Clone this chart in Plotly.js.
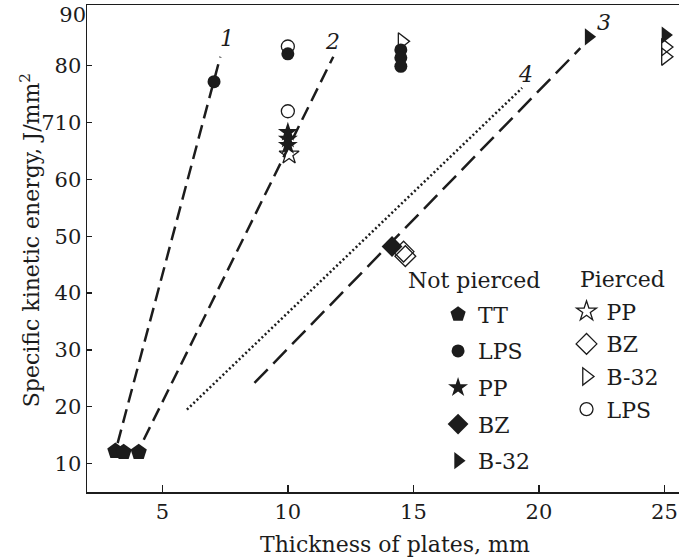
<!DOCTYPE html>
<html>
<head>
<meta charset="utf-8">
<script src="https://cdn.plot.ly/plotly-3.0.1.min.js"></script>
<style>html,body{margin:0;padding:0;background:#fff;}#chart{width:679px;height:559px;}</style>
</head>
<body>
<div id="chart"></div>
<script>
// ---- data ----
// Not pierced
var ttX = [3.13, 3.46, 4.06];
var ttY = [12.2, 12.0, 12.0];
var lpsX = [7.06, 10.0, 14.5, 14.5, 14.5];
var lpsY = [77.2, 82.1, 82.8, 81.4, 79.9];
var ppX = [10.0, 10.0, 10.0];
var ppY = [68.3, 67.1, 66.0];
var bzX = [14.15];
var bzY = [48.2];
var b32X = [21.98, 25.04];
var b32Y = [85.1, 85.4];
// Pierced
var ppOpenX = [10.05];
var ppOpenY = [64.4];
var bzOpenX = [14.61, 14.68];
var bzOpenY = [47.3, 46.5];
var b32OpenX = [14.55, 25.04];
var b32OpenY = [84.3, 83.3];
var b32OpenX2 = [25.04];
var b32OpenY2 = [81.6];
var lpsOpenX = [10.0, 10.0];
var lpsOpenY = [83.4, 72.0];
// fitted lines
var line1X = [3.22, 7.31];
var line1Y = [13.6, 81.6];
var line2X = [4.26, 11.81];
var line2Y = [14.2, 81.6];
var line3X = [8.67, 21.65];
var line3Y = [24.2, 83.1];
var line4X = [5.98, 19.33];
var line4Y = [19.5, 76.1];
var yTickVals = [10, 20, 30, 40, 50, 60, 70, 80];
var yTickText = ['10', '20', '30', '40', '50', '60', '710', '80'];
var yTopTickVals = [90];
var yTopTickText = ['90'];
var xTickVals = [5, 10, 15, 20, 25];

var INK = '#1c1c1c';
var FONT = 'DejaVu Serif, Liberation Serif, serif';

function lineTrace(x, y, dash) {
  return {x: x, y: y, type: 'scatter', mode: 'lines', showlegend: false, hoverinfo: 'skip',
    line: {color: INK, width: 2.5, dash: dash}};
}
function markTrace(x, y, name, symbol, size, legend, group) {
  return {x: x, y: y, type: 'scatter', mode: 'markers', name: name, legend: legend, legendgroup: group,
    marker: {symbol: symbol, size: size, color: INK, line: {color: INK, width: 0}}};
}
function openTrace(x, y, name, symbol, size, legend, group, show) {
  return {x: x, y: y, type: 'scatter', mode: 'markers', name: name, legend: legend, legendgroup: group,
    showlegend: show,
    marker: {symbol: symbol, size: size, color: INK, line: {color: INK, width: 1.3}}};
}

var traces = [
  lineTrace(line1X, line1Y, '14px,7px'),
  lineTrace(line2X, line2Y, '14px,7px'),
  lineTrace(line3X, line3Y, '19px,8px'),
  lineTrace(line4X, line4Y, '2px,2.5px'),
  markTrace(ttX, ttY, 'TT', 'pentagon', 17, 'legend', 'g1'),
  markTrace(lpsX, lpsY, 'LPS', 'circle', 13, 'legend', 'g2'),
  markTrace(ppX, ppY, 'PP', 'star', 15, 'legend', 'g3'),
  markTrace(bzX, bzY, 'BZ', 'diamond', 16, 'legend', 'g4'),
  markTrace(b32X, b32Y, 'B-32', 'triangle-right', 15, 'legend', 'g5'),
  openTrace(ppOpenX, ppOpenY, 'PP', 'star-open', 15, 'legend2', 'h1', true),
  openTrace(bzOpenX, bzOpenY, 'BZ', 'diamond-open', 16, 'legend2', 'h2', true),
  openTrace(b32OpenX, b32OpenY, 'B-32', 'triangle-right-open', 15, 'legend2', 'h3', true),
  openTrace(b32OpenX2, b32OpenY2, 'B-32', 'triangle-right-open', 15, 'legend2', 'h3', false),
  openTrace(lpsOpenX, lpsOpenY, 'LPS', 'circle-open', 13, 'legend2', 'h4', true),
  // empty helper trace so the overlaid top-label axis is drawn
  {x: [null], y: [null], xaxis: 'x', yaxis: 'y2', type: 'scatter', mode: 'markers',
    showlegend: false, hoverinfo: 'skip', marker: {opacity: 0}}
];

var txt = {family: FONT, size: 22, color: INK};
var tickTxt = {family: FONT, size: 21, color: INK};
var Y_RANGE = [5, 90.7];
var layout = {
  width: 679, height: 559,
  margin: {l: 87, r: 0, t: 5, b: 67},
  paper_bgcolor: '#ffffff', plot_bgcolor: '#ffffff',
  font: txt,
  xaxis: {
    range: [2, 25.58], tickvals: xTickVals, ticks: 'inside', ticklen: 7, tickwidth: 1.3, tickcolor: INK,
    showline: true, linecolor: INK, linewidth: 1.5, mirror: true, showgrid: false, zeroline: false,
    tickfont: tickTxt
  },
  yaxis: {
    range: Y_RANGE, tickvals: yTickVals, ticktext: yTickText, ticks: 'inside', ticklen: 5, tickwidth: 1.3,
    tickcolor: INK, showline: true, linecolor: INK, linewidth: 1.5, showgrid: false, zeroline: false,
    tickfont: tickTxt
  },
  yaxis2: {
    overlaying: 'y', anchor: 'x', side: 'left', range: Y_RANGE, tickvals: yTopTickVals, ticktext: yTopTickText,
    ticks: '', showline: false, showgrid: false, zeroline: false, tickfont: tickTxt,
    ticklabelshift: 6, ticklabeloverflow: 'allow', fixedrange: true
  },
  legend: {
    x: 0.593, y: 0.4076, xanchor: 'left', yanchor: 'top', bgcolor: 'rgba(0,0,0,0)',
    font: txt, tracegroupgap: 5, itemclick: false
  },
  legend2: {
    x: 0.81, y: 0.4138, xanchor: 'left', yanchor: 'top', bgcolor: 'rgba(0,0,0,0)',
    font: txt, tracegroupgap: 1, itemclick: false
  },
  annotations: [
    {x: 7.58, y: 84.8, text: '<i>1</i>', showarrow: false, font: txt},
    {x: 11.78, y: 84.2, text: '<i>2</i>', showarrow: false, font: txt},
    {x: 22.6, y: 87.6, text: '<i>3</i>', showarrow: false, font: txt},
    {x: 19.46, y: 78.5, text: '<i>4</i>', showarrow: false, font: txt},
    {xref: 'paper', yref: 'paper', x: 0.654, y: 0.434, xanchor: 'center', yanchor: 'middle',
      text: 'Not pierced', showarrow: false, font: txt},
    {xref: 'paper', yref: 'paper', x: 0.904, y: 0.436, xanchor: 'center', yanchor: 'middle',
      text: 'Pierced', showarrow: false, font: txt},
    {xref: 'paper', yref: 'paper', x: 0.520, y: -0.108, xanchor: 'center', yanchor: 'middle',
      text: 'Thickness of plates, mm', showarrow: false, font: txt},
    {xref: 'paper', yref: 'paper', x: -0.0963, y: 0.517, xanchor: 'center', yanchor: 'middle', textangle: -90,
      text: 'Specific kinetic energy, J/mm<sup>2</sup>', showarrow: false, font: txt}
  ]
};

Plotly.newPlot('chart', traces, layout, {staticPlot: true, displayModeBar: false});
</script>
</body>
</html>
